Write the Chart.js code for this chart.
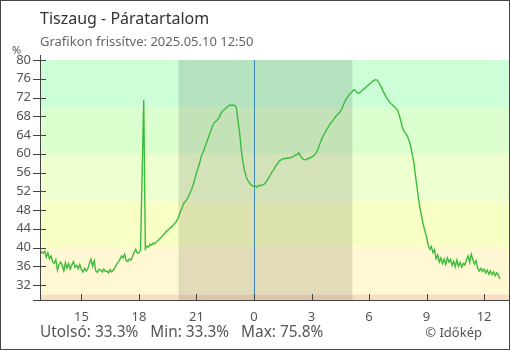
<!DOCTYPE html>
<html>
<head>
<meta charset="utf-8">
<script src="https://cdn.jsdelivr.net/npm/chart.js@4.4.1/dist/chart.umd.min.js"></script>
<style>
    body { margin: 0; background: #fff; }
    #wrap { position: relative; width: 510px; height: 350px; font-family: 'Noto Sans', sans-serif; }
    #chart { position: absolute; left: 0; top: 0; }
    #frame { position: absolute; left: 0; top: 0; width: 510px; height: 350px; box-sizing: border-box; border: 1px solid #444; pointer-events: none; }
    .txt { position: absolute; white-space: nowrap; }
    #title { left: 40px; top: 7px; font-size: 16px; line-height: 22px; color: #333; }
    #subtitle { left: 40px; top: 32px; font-size: 13px; line-height: 18px; color: #666; }
    #unit { left: 12px; top: 43px; font-size: 11px; line-height: 14px; color: #555; }
    #stats { left: 40px; top: 321px; font-size: 15.4px; line-height: 22px; color: #555; }
    #credit { right: 28px; top: 323px; font-size: 13px; line-height: 18px; color: #555; }
</style>
</head>
<body>
<div id="wrap">
    <canvas id="chart" width="510" height="350"></canvas>
    <div class="txt" id="title">Tiszaug - Páratartalom</div>
    <div class="txt" id="subtitle">Grafikon frissítve: 2025.05.10 12:50</div>
    <div class="txt" id="unit">%</div>
    <div class="txt" id="stats"></div>
    <div class="txt" id="credit">© Időkép</div>
    <div id="frame"></div>
</div>
<script>
// 2025.05.09 12:50 -> 2025.05.10 12:50, one reading every 5 minutes
const startHour = 12 + 50 / 60;
const stepMinutes = 5;
const humidity = [
    38.6, 39.0,
    38.8, 39.2, 38.0, 38.9, 37.6, 38.2, 37.0, 36.6, 37.4, 35.2, 36.4, 36.9, // 13
    36.2, 35.0, 36.8, 35.6, 36.6, 35.4, 36.3, 37.0, 35.8, 36.2, 35.5, 36.4, // 14
    35.3, 34.8, 35.6, 35.0, 35.5, 36.6, 37.5, 36.0, 37.2, 35.0, 34.7, 35.4, // 15
    35.2, 34.8, 35.4, 34.9, 35.0, 34.6, 35.3, 34.8, 35.2, 35.7, 36.4, 36.9, // 16
    37.4, 38.2, 37.8, 38.6, 37.2, 37.0, 37.6, 37.3, 38.1, 39.0, 39.6, 38.8, // 17
    38.9, 39.4, 55.7, 71.5, 39.7, 40.3, 40.1, 40.7, 40.5, 41.0, 40.8, 41.3, // 18
    41.5, 41.9, 42.2, 42.6, 43.0, 43.4, 43.7, 44.0, 44.3, 44.6, 45.0, 45.4, // 19
    45.9, 46.8, 47.7, 48.5, 49.4, 49.8, 50.2, 50.9, 51.7, 52.5, 53.4, 54.6, // 20
    55.9, 56.9, 58.1, 59.4, 60.2, 61.1, 62.1, 63.0, 64.0, 64.9, 65.8, 66.6, // 21
    66.9, 67.2, 67.6, 68.4, 69.0, 69.3, 69.6, 69.9, 70.2, 70.4, 70.3, 70.4, // 22
    70.3, 69.8, 67.0, 64.5, 61.0, 58.5, 56.5, 55.2, 54.4, 53.9, 53.4, 53.2, // 23
    53.0, 53.1, 52.9, 53.3, 53.2, 53.3, 53.4, 53.7, 54.2, 54.8, 55.3, 56.0, // 0
    56.4, 57.0, 57.6, 58.0, 58.5, 58.7, 58.9, 59.0, 59.0, 59.1, 59.1, 59.2, // 1
    59.3, 59.5, 59.8, 59.8, 60.2, 59.6, 59.1, 58.8, 58.7, 58.8, 59.0, 59.1, // 2
    59.3, 59.5, 59.8, 60.3, 60.9, 61.9, 62.8, 63.6, 64.2, 64.8, 65.4, 66.0, // 3
    66.5, 66.9, 67.4, 67.9, 68.2, 68.6, 69.0, 69.6, 70.5, 71.2, 71.8, 72.3, // 4
    72.8, 73.1, 73.5, 73.6, 73.3, 72.9, 73.0, 73.3, 73.6, 73.9, 74.2, 74.5, // 5
    74.8, 75.1, 75.4, 75.6, 75.8, 75.7, 75.3, 74.6, 74.0, 73.2, 72.6, 71.9, // 6
    71.5, 70.9, 70.6, 70.3, 70.0, 69.6, 69.2, 68.2, 66.8, 65.5, 64.8, 64.3, // 7
    63.8, 62.9, 61.7, 60.0, 58.2, 55.5, 53.0, 50.3, 48.2, 46.5, 44.8, 43.5, // 8
    42.2, 40.6, 39.6, 40.2, 38.9, 39.5, 37.6, 38.4, 36.9, 37.8, 36.6, 37.5, // 9
    36.4, 37.8, 36.9, 37.5, 36.2, 37.1, 35.9, 37.3, 36.0, 36.8, 35.8, 36.6, // 10
    36.3, 37.4, 38.2, 36.8, 38.6, 37.4, 36.5, 37.2, 35.6, 35.0, 35.6, 34.9, // 11
    35.4, 34.6, 35.2, 34.3, 35.0, 34.2, 34.8, 34.0, 34.6, 34.1, 33.3        // 12
];
const xTicks = [15, 18, 21, 24, 27, 30, 33, 36];
const yTicks = [32, 36, 40, 44, 48, 52, 56, 60, 64, 68, 72, 76, 80];
const xMin = 12.84, xMax = 37.3;
const yMin = 28.6, yMax = 80;
const bandLimits = [28.6, 30, 40, 50, 60, 70, 80];
const bandColors = ['#fcdcc0', '#fff8d2', '#f7ffc4', '#eeffd0', '#dcffcf', '#ccffd8'];
const nightStart = 20 + 4 / 60;
const nightEnd = 24 + 5 + 8 / 60;
const midnight = 24;

const points = humidity.map((v, i) => ({ x: startHour + i * stepMinutes / 60, y: v }));

const last = humidity[humidity.length - 1];
document.getElementById('stats').innerHTML =
    'Utolsó: ' + last.toFixed(1) + '%&nbsp;&nbsp; Min: ' + Math.min(...humidity).toFixed(1) +
    '%&nbsp;&nbsp; Max: ' + Math.max(...humidity).toFixed(1) + '%';

const backdrop = {
    id: 'backdrop',
    beforeDatasetsDraw(chart) {
        const { ctx, chartArea: a, scales: { x, y } } = chart;
        ctx.save();
        for (let i = 0; i < bandColors.length; i++) {
            const top = y.getPixelForValue(bandLimits[i + 1]);
            const bottom = y.getPixelForValue(bandLimits[i]);
            ctx.fillStyle = bandColors[i];
            ctx.fillRect(a.left, top, a.right - a.left, bottom - top);
        }
        const n0 = x.getPixelForValue(nightStart);
        const n1 = x.getPixelForValue(nightEnd);
        ctx.fillStyle = 'rgba(0,0,0,0.115)';
        ctx.fillRect(n0, a.top, n1 - n0, a.bottom - a.top);

        const mx = Math.round(x.getPixelForValue(midnight)) + 0.5;
        ctx.strokeStyle = '#3f86b8';
        ctx.lineWidth = 1;
        ctx.beginPath();
        ctx.moveTo(mx, a.top);
        ctx.lineTo(mx, a.bottom);
        ctx.stroke();
        ctx.restore();
    },
    afterDatasetsDraw(chart) {
        const { ctx, chartArea: a, scales: { x, y } } = chart;
        ctx.save();
        ctx.strokeStyle = '#444';
        ctx.lineWidth = 1;
        ctx.beginPath();
        ctx.moveTo(a.left + 0.5, a.top - 5);
        ctx.lineTo(a.left + 0.5, a.bottom);
        ctx.moveTo(a.left - 7, a.bottom - 0.5);
        ctx.lineTo(a.right, a.bottom - 0.5);
        yTicks.forEach(v => {
            const py = Math.round(y.getPixelForValue(v)) + 0.5;
            ctx.moveTo(a.left - 7, py);
            ctx.lineTo(a.left + 6, py);
        });
        xTicks.forEach(v => {
            const px = Math.round(x.getPixelForValue(v)) + 0.5;
            ctx.moveTo(px, a.bottom - 7);
            ctx.lineTo(px, a.bottom);
        });
        ctx.stroke();
        ctx.restore();
    }
};

new Chart(document.getElementById('chart'), {
    type: 'line',
    data: {
        datasets: [{
            data: points,
            borderColor: '#3cbc3c',
            borderWidth: 1.4,
            pointRadius: 0,
            fill: false,
            tension: 0
        }]
    },
    options: {
        responsive: false,
        animation: false,
        devicePixelRatio: 1,
        layout: { padding: { top: 60, right: 1, left: 0, bottom: 0 } },
        plugins: {
            legend: { display: false },
            tooltip: { enabled: false }
        },
        scales: {
            x: {
                type: 'linear',
                min: xMin,
                max: xMax,
                grid: { display: false, drawTicks: false },
                border: { display: false },
                afterBuildTicks: s => { s.ticks = xTicks.map(v => ({ value: v })); },
                afterFit: s => { s.height = 49; },
                ticks: {
                    callback: v => String(v % 24),
                    color: '#555',
                    font: { family: 'Noto Sans', size: 13 },
                    padding: 8,
                    maxRotation: 0,
                    autoSkip: false
                }
            },
            y: {
                min: yMin,
                max: yMax,
                grid: { display: false, drawTicks: false },
                border: { display: false },
                afterBuildTicks: s => { s.ticks = yTicks.map(v => ({ value: v })); },
                afterFit: s => { s.width = 40; },
                ticks: {
                    color: '#555',
                    font: { family: 'Noto Sans', size: 13 },
                    padding: 9
                }
            }
        }
    },
    plugins: [backdrop]
});
</script>
</body>
</html>
